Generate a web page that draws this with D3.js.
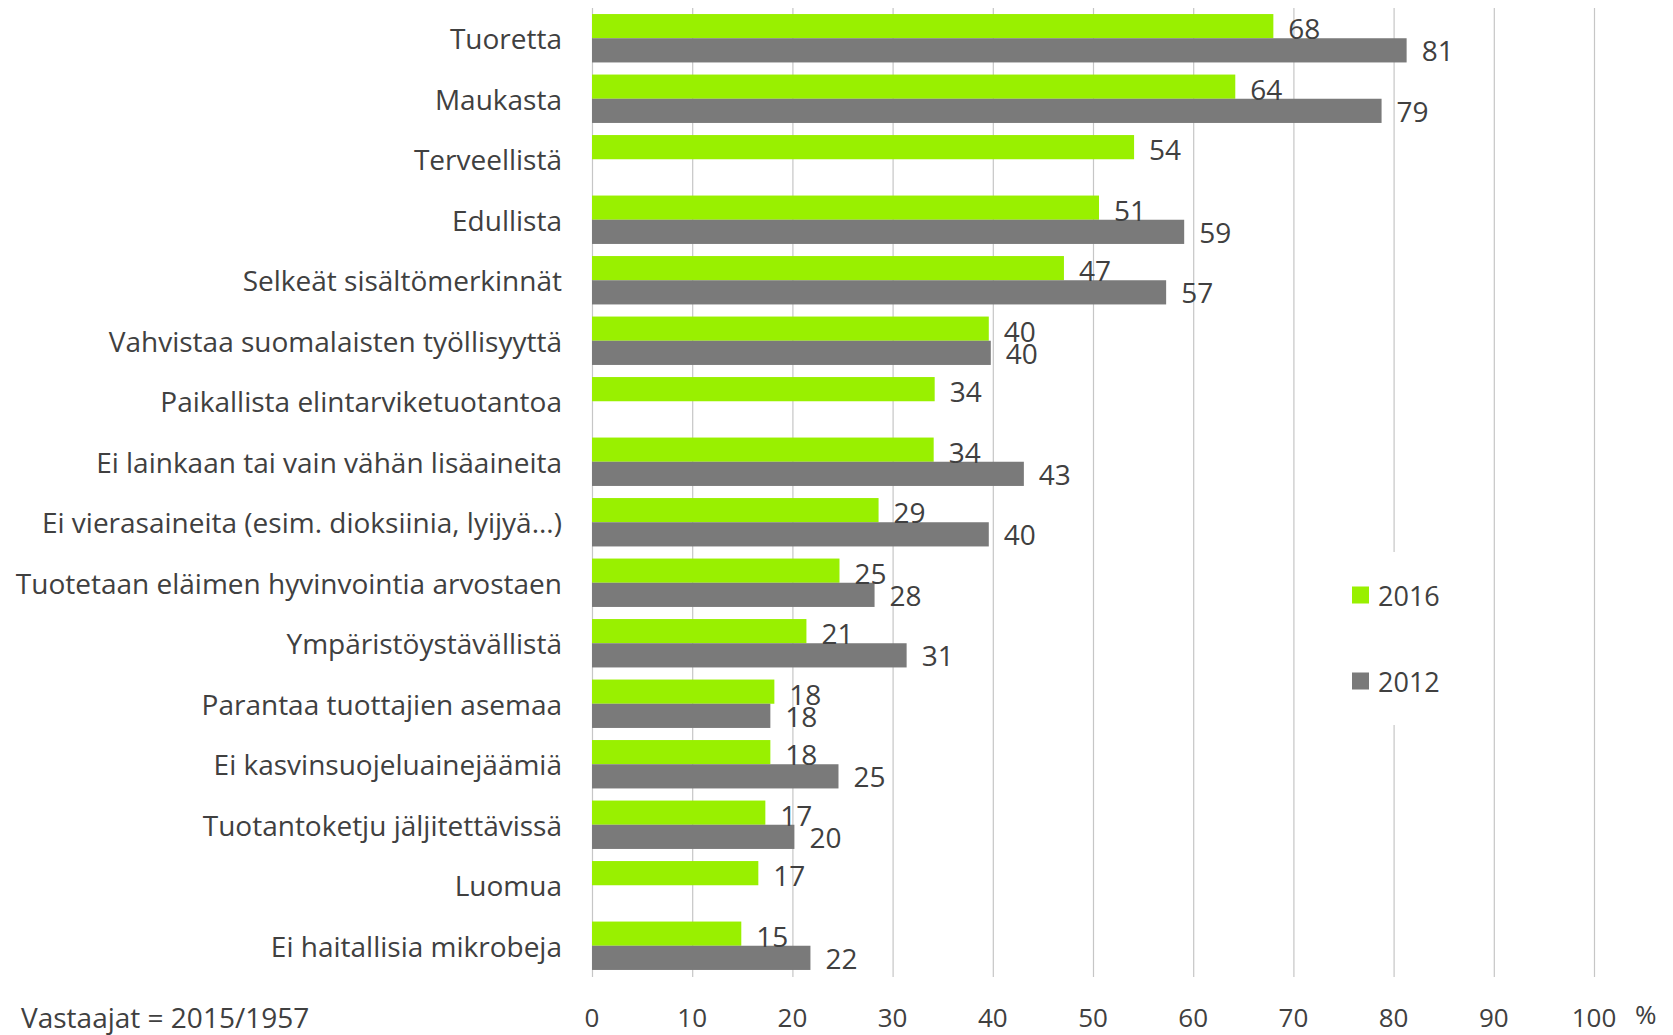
<!DOCTYPE html>
<html>
<head>
<meta charset="utf-8">
<script src="https://cdn.jsdelivr.net/npm/d3@7"></script>
<style>
  body { margin: 0; background: #fff; }
  text { font-family: "Open Sans", sans-serif; fill: #404040; }
</style>
</head>
<body>
<svg class="svg"></svg>
<script>
const categories = [
  "Tuoretta",
  "Maukasta",
  "Terveellistä",
  "Edullista",
  "Selkeät sisältömerkinnät",
  "Vahvistaa suomalaisten työllisyyttä",
  "Paikallista elintarviketuotantoa",
  "Ei lainkaan tai vain vähän lisäaineita",
  "Ei vierasaineita (esim. dioksiinia, lyijyä...)",
  "Tuotetaan eläimen hyvinvointia arvostaen",
  "Ympäristöystävällistä",
  "Parantaa tuottajien asemaa ",
  "Ei kasvinsuojeluainejäämiä",
  "Tuotantoketju jäljitettävissä",
  "Luomua",
  "Ei haitallisia mikrobeja",
];
// bar lengths; labels show them rounded
const values2016 = [68.0, 64.2, 54.1, 50.6, 47.1, 39.6, 34.2, 34.1, 28.6, 24.7, 21.4, 18.2, 17.8, 17.3, 16.6, 14.9];
const values2012 = [81.3, 78.8, null, 59.1, 57.3, 39.8, null, 43.1, 39.6, 28.2, 31.4, 17.8, 24.6, 20.2, null, 21.8];
const seriesNames = ["2016", "2012"];
const seriesColors = ["#99F000", "#7A7A7A"];
const ticks = [0, 10, 20, 30, 40, 50, 60, 70, 80, 90, 100];
const footnote = "Vastaajat = 2015/1957";

const W = 1673, H = 1035;
const svg = d3.select(".svg").attr("width", W).attr("height", H);

const x = d3.scaleLinear().domain([0, 100]).range([592, 1594]);
const y = d3.scaleBand().domain(categories).range([8, 976]).paddingInner(0.2).paddingOuter(0.1);
const ySub = d3.scaleBand().domain(seriesNames).range([0, y.bandwidth()]);
const fmt = d3.format(".0f");

// gridlines
svg.append("g").selectAll("line").data(ticks).join("line")
  .attr("x1", d => x(d) + 0.5).attr("x2", d => x(d) + 0.5)
  .attr("y1", 8).attr("y2", 977)
  .attr("stroke", "#c6c6c6").attr("stroke-width", 1.2);

// tick labels
svg.append("g").selectAll("text").data(ticks).join("text")
  .attr("x", d => x(d)).attr("y", 1017)
  .attr("text-anchor", "middle").attr("dominant-baseline", "central")
  .attr("font-size", 26)
  .text(d => d);
svg.append("text").attr("x", 1635).attr("y", 1014)
  .attr("dominant-baseline", "central").attr("font-size", 26).text("%");

// category labels
svg.append("g").selectAll("text").data(categories).join("text")
  .attr("x", 562).attr("y", d => y(d) + y.bandwidth() / 2)
  .attr("text-anchor", "end").attr("dominant-baseline", "central")
  .attr("font-size", 28)
  .text(d => d);

const rows = categories.map((c, i) => ({
  cat: c,
  vals: [
    { s: "2016", v: values2016[i], color: seriesColors[0] },
    { s: "2012", v: values2012[i], color: seriesColors[1] },
  ].filter(d => d.v !== null),
}));

const g = svg.append("g").selectAll("g").data(rows).join("g")
  .attr("transform", d => `translate(0, ${y(d.cat)})`);

g.selectAll("rect").data(d => d.vals).join("rect")
  .attr("x", x(0)).attr("y", d => ySub(d.s))
  .attr("width", d => x(d.v) - x(0)).attr("height", ySub.bandwidth())
  .attr("fill", d => d.color);

g.selectAll("text").data(d => d.vals).join("text")
  .attr("x", d => x(d.v) + 15)
  .attr("y", d => ySub(d.s) + ySub.bandwidth() / 2 + (d.s === "2016" ? 2 : 0))
  .attr("dominant-baseline", "central")
  .attr("font-size", 28)
  .text(d => fmt(d.v));

// legend
const legend = svg.append("g");
legend.append("rect").attr("x", 1340).attr("y", 552).attr("width", 125).attr("height", 173).attr("fill", "#fff");
const li = legend.selectAll("g").data(seriesNames).join("g")
  .attr("transform", (d, i) => `translate(1352, ${595 + i * 86})`);
li.append("rect").attr("x", 0).attr("y", -8.5).attr("width", 17).attr("height", 17)
  .attr("fill", (d, i) => seriesColors[i]);
li.append("text").attr("x", 26).attr("y", 0).attr("dominant-baseline", "central")
  .attr("font-size", 27).text(d => d);

svg.append("text").attr("x", 21).attr("y", 1017).attr("dominant-baseline", "central")
  .attr("font-size", 28).text(footnote);
</script>
</body>
</html>
